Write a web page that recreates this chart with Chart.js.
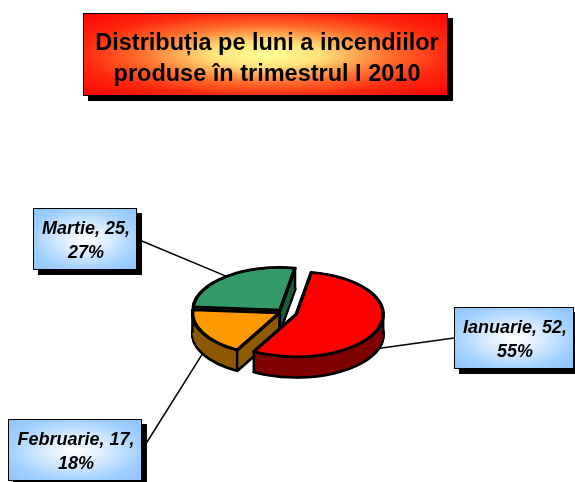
<!DOCTYPE html>
<html>
<head>
<meta charset="utf-8">
<script src="https://cdn.jsdelivr.net/npm/chart.js@4/dist/chart.umd.min.js"></script>
<style>
  html, body { margin: 0; padding: 0; background: #fff; }
  #cutie { width: 575px; height: 482px; position: relative; }
</style>
</head>
<body>
<div id="cutie"><canvas id="grafic"></canvas></div>
<script>
// date
const luni = ['Ianuarie', 'Februarie', 'Martie'];
const incendii = [52, 17, 25];
const titlu = ['Distribuția pe luni a incendiilor', 'produse în trimestrul I 2010'];

// stil
const culoriSus = ['#FF0000', '#FF9900', '#339966'];
const culoriLatura = ['#800000', '#8F5A00', '#1D5E3D'];
const explodare = [14, 4, 5];
const INCLINARE = 0.49;
const ADANCIME = 20;
const casete = [
  { x: 454, y: 307, w: 120, h: 62 },
  { x: 8, y: 419, w: 134, h: 62 },
  { x: 33, y: 208, w: 104, h: 62 }
];

const total = incendii.reduce((a, b) => a + b, 0);

// pozitia unui punct de pe felie (pe ecran)
function punct(arc, i, unghi, r, d) {
  const mid = (arc.startAngle + arc.endAngle) / 2;
  return {
    x: arc.x + Math.cos(mid) * explodare[i] + r * Math.cos(unghi),
    y: arc.y + d + INCLINARE * (Math.sin(mid) * explodare[i] + r * Math.sin(unghi))
  };
}

const pie3d = {
  id: 'pie3d',
  beforeDatasetsDraw(chart) {
    const ctx = chart.ctx;
    const arcs = chart.getDatasetMeta(0).data;
    const cx = arcs[0].x, cy = arcs[0].y;

    const deseneaza = (arc, i, d, opt) => {
      const orig = arc.options;
      const mid = (arc.startAngle + arc.endAngle) / 2;
      arc.options = Object.assign({}, orig, opt);
      ctx.save();
      ctx.translate(cx, cy + d);
      ctx.scale(1, INCLINARE);
      ctx.translate(-cx, -cy);
      ctx.translate(Math.cos(mid) * explodare[i], Math.sin(mid) * explodare[i]);
      arc.draw(ctx);
      ctx.restore();
      arc.options = orig;
    };

    // fundul feliilor, cu contur
    [ADANCIME + 1.2, ADANCIME + 0.6, ADANCIME].forEach(d => {
      arcs.forEach((a, i) => deseneaza(a, i, d, { backgroundColor: culoriLatura[i], borderColor: '#000', borderWidth: 3 }));
    });
    // peretii laterali
    for (let d = ADANCIME - 1; d >= 1; d--) {
      arcs.forEach((a, i) => deseneaza(a, i, d, { backgroundColor: culoriLatura[i], borderWidth: 0 }));
    }

    // muchii verticale
    ctx.save();
    ctx.strokeStyle = '#000';
    ctx.lineWidth = 2.5;
    arcs.forEach((a, i) => {
      const s = a.startAngle, e = a.endAngle, R = a.outerRadius;
      const muchii = [];
      if (Math.cos(s) < 0 || Math.sin(s) > 0) muchii.push([s, R]);
      if (Math.cos(e) > 0 || Math.sin(e) > 0) muchii.push([e, R]);
      if (Math.cos(s) < 0 || Math.cos(e) > 0) muchii.push([s, 0]);
      [-Math.PI, 0, Math.PI, 2 * Math.PI].forEach(t => { if (t > s && t < e) muchii.push([t, R]); });
      muchii.forEach(([u, r]) => {
        const p1 = punct(a, i, u, r, 0), p2 = punct(a, i, u, r, ADANCIME);
        ctx.beginPath();
        ctx.moveTo(p1.x, p1.y);
        ctx.lineTo(p2.x, p2.y);
        ctx.stroke();
      });
    });
    ctx.restore();

    // fata de sus
    arcs.forEach((a, i) => deseneaza(a, i, 0, { borderColor: '#000', borderWidth: 3 }));
    [-0.7, 0.7].forEach(d => {
      arcs.forEach((a, i) => deseneaza(a, i, d, { backgroundColor: 'rgba(0,0,0,0)', borderColor: '#000', borderWidth: 3 }));
    });
    return false;
  }
};

// gradient "din centru" pe o cutie dreptunghiulara
function cutieGradient(ctx, x, y, w, h, stops) {
  ctx.save();
  ctx.translate(x + w / 2, y + h / 2);
  ctx.scale(w / 2, h / 2);
  const g = ctx.createRadialGradient(0, 0, 0, 0, 0, 1.42);
  stops.forEach(s => g.addColorStop(s[0] / 1.42, s[1]));
  ctx.fillStyle = g;
  ctx.fillRect(-1, -1, 2, 2);
  ctx.restore();
}

const etichete = {
  id: 'etichete',
  afterDraw(chart) {
    const ctx = chart.ctx;
    const arcs = chart.getDatasetMeta(0).data;

    // titlu
    const tx = 83, ty = 13, tw = 365, th = 83;
    ctx.fillStyle = '#000';
    ctx.fillRect(tx + 5, ty + 5, tw, th);
    cutieGradient(ctx, tx, ty, tw, th, [[0, '#FFFF99'], [0.3, '#FFE27A'], [0.7, '#FF6A2A'], [1, '#FF2A10'], [1.42, '#FF0000']]);
    ctx.strokeStyle = '#000';
    ctx.lineWidth = 1;
    ctx.strokeRect(tx + 0.5, ty + 0.5, tw - 1, th - 1);
    ctx.fillStyle = '#000';
    ctx.font = 'bold 23.5px "Liberation Sans", Arial, sans-serif';
    ctx.textAlign = 'center';
    ctx.textBaseline = 'alphabetic';
    ctx.fillText(titlu[0], 267, 50);
    ctx.fillText(titlu[1], 267, 81);

    // etichete felii
    arcs.forEach((a, i) => {
      const b = casete[i];
      const mid = (a.startAngle + a.endAngle) / 2;
      const ancora = punct(a, i, mid, a.outerRadius, Math.sin(mid) > 0 ? ADANCIME : 0);
      const pornire = { x: b.x > ancora.x ? b.x : b.x + b.w, y: b.y + b.h / 2 };
      ctx.save();
      ctx.strokeStyle = '#000';
      ctx.lineWidth = 1.5;
      ctx.beginPath();
      ctx.moveTo(pornire.x, pornire.y);
      ctx.lineTo(ancora.x, ancora.y);
      ctx.stroke();

      ctx.fillStyle = '#000';
      ctx.fillRect(b.x + 5, b.y + 5, b.w, b.h);
      cutieGradient(ctx, b.x, b.y, b.w, b.h, [[0, '#FFFFFF'], [0.5, '#D6EAFF'], [1, '#9FCFFF'], [1.42, '#8CC4FF']]);
      ctx.lineWidth = 1;
      ctx.strokeRect(b.x + 0.5, b.y + 0.5, b.w - 1, b.h - 1);

      const procent = Math.round(incendii[i] / total * 100);
      ctx.fillStyle = '#000';
      ctx.font = 'italic bold 18px "Liberation Sans", Arial, sans-serif';
      ctx.textAlign = 'center';
      const xc = b.x + b.w / 2 + 1, yc = b.y + b.h / 2;
      ctx.fillText(luni[i] + ', ' + incendii[i] + ',', xc, yc - 5);
      ctx.fillText(procent + '%', xc, yc + 19);
      ctx.restore();
    });
  }
};

new Chart(document.getElementById('grafic'), {
  type: 'pie',
  data: {
    labels: luni,
    datasets: [{
      data: incendii,
      backgroundColor: culoriSus,
      borderColor: '#000',
      borderWidth: 3,
      borderJoinStyle: 'round'
    }]
  },
  options: {
    responsive: true,
    maintainAspectRatio: false,
    animation: false,
    events: [],
    rotation: 10,
    radius: 87,
    layout: { padding: { top: 142, bottom: 0, left: 0, right: 9 } },
    plugins: {
      legend: { display: false },
      tooltip: { enabled: false }
    }
  },
  plugins: [pie3d, etichete]
});
</script>
</body>
</html>
